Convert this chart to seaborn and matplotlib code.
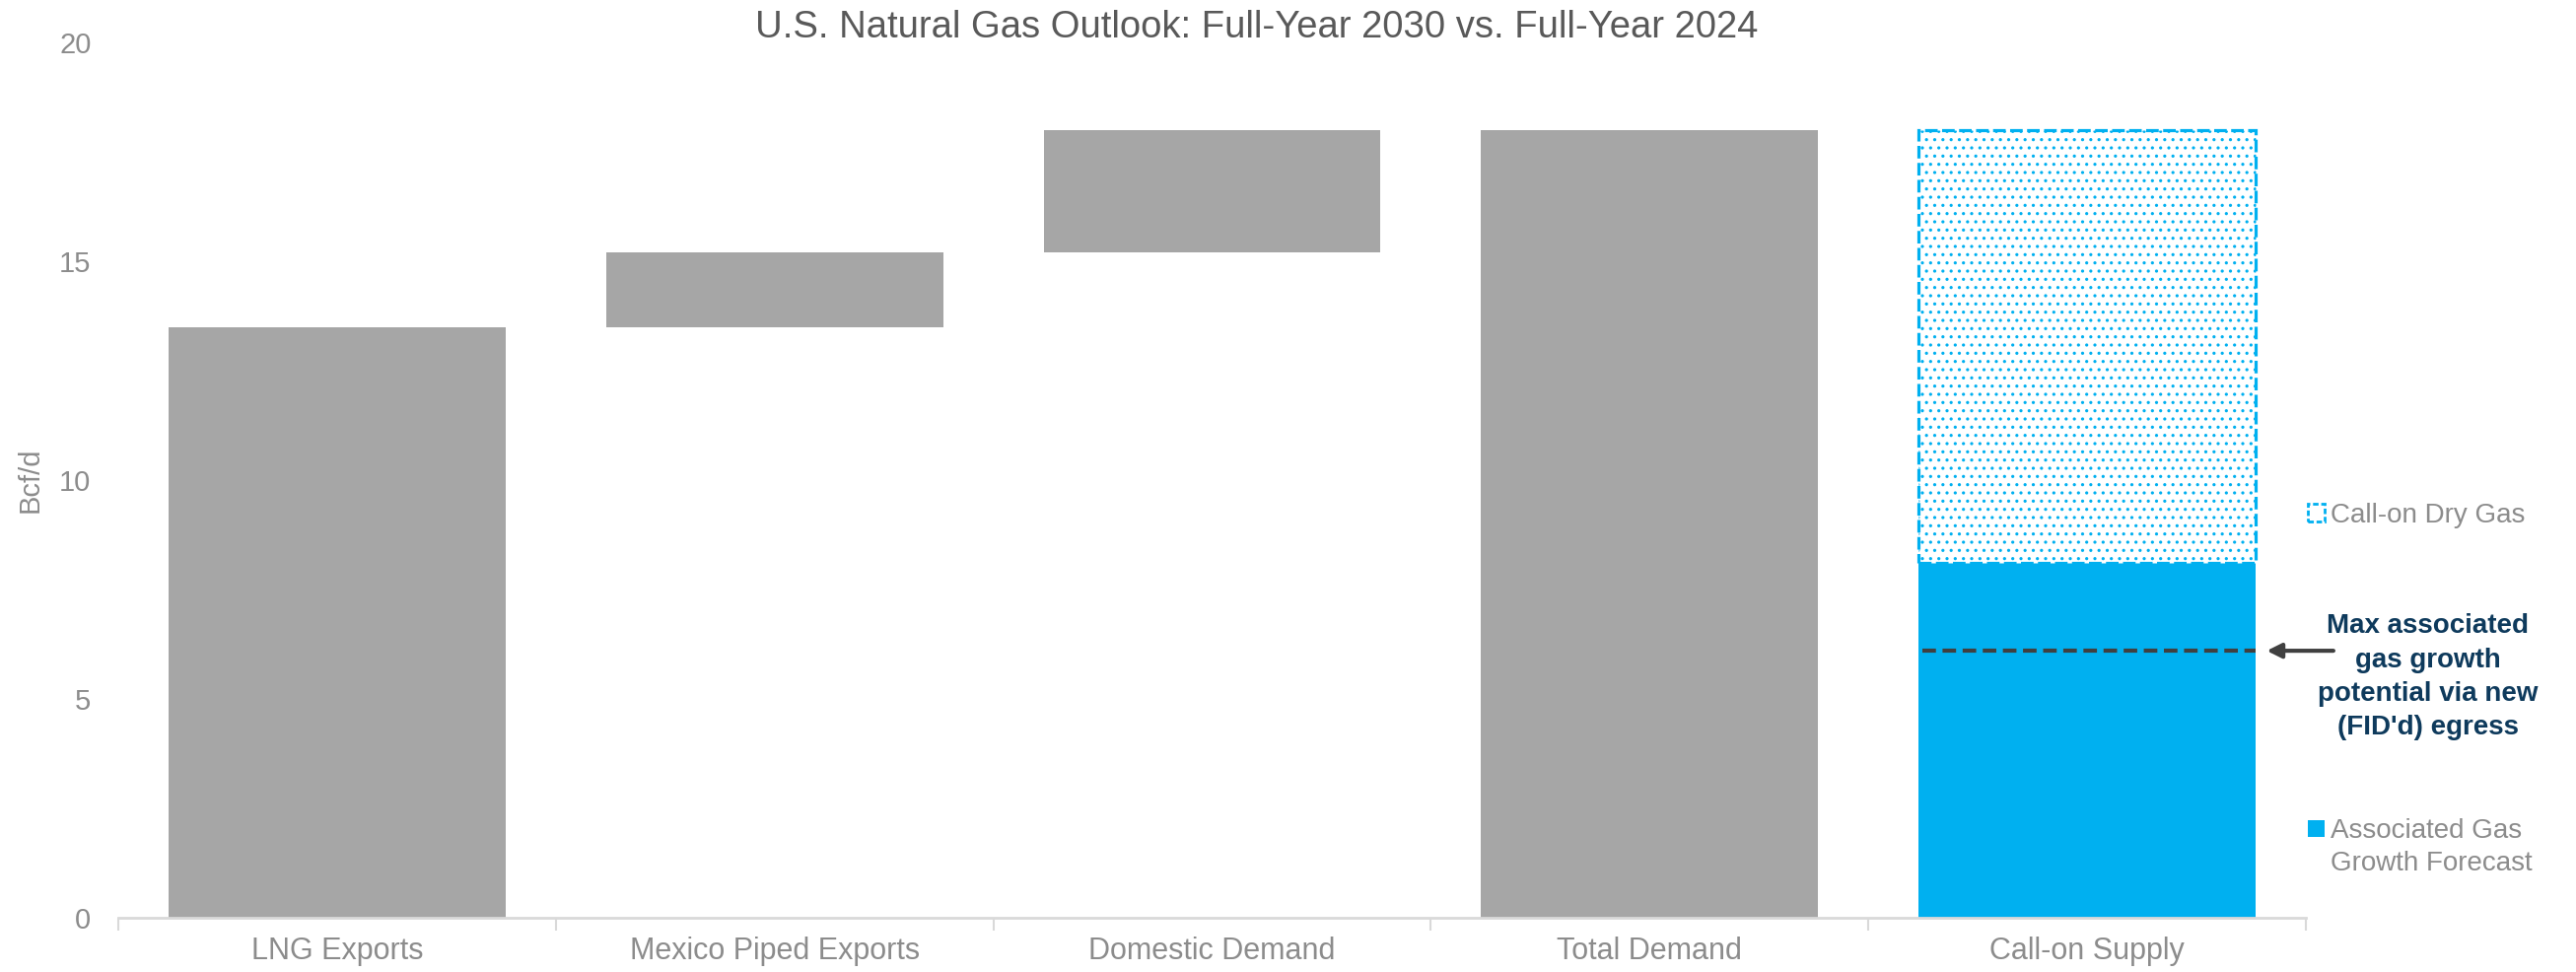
import numpy as np
import pandas as pd
import matplotlib
matplotlib.use("Agg")
import matplotlib.pyplot as plt
import seaborn as sns
from matplotlib.patches import Patch

# dados (Bcf/d)
categories = ["LNG Exports", "Mexico Piped Exports", "Domestic Demand", "Total Demand", "Call-on Supply"]
demand_cats = ["LNG Exports", "Mexico Piped Exports", "Domestic Demand", "Total Demand"]
demand_bottom = [0.0, 13.5, 15.2, 0.0]
demand_height = [13.5, 1.7, 2.8, 18.0]
assoc_growth = [8.1]
dry_gas = [9.9]
max_assoc_line = 6.1
y_ticks = [0, 5, 10, 15, 20]

sns.set_theme(style="white")
narrow = ["Liberation Sans Narrow", "Liberation Sans", "DejaVu Sans"]
wide = ["Liberation Sans", "DejaVu Sans"]
plt.rcParams["font.family"] = narrow
plt.rcParams["hatch.linewidth"] = 1.1

grey = "#a6a6a6"
blue = "#00b0f0"
txt = "#8c8c8c"

fig = plt.figure(figsize=(26.13, 9.86), dpi=100)
ax = fig.add_axes([0.046, 0.056, 0.849, 0.9])

df_dem = pd.DataFrame({"cat": demand_cats, "val": demand_height})
sns.barplot(data=df_dem, x="cat", y="val", order=categories, color=grey,
            saturation=1, errorbar=None, width=0.77, bottom=demand_bottom,
            linewidth=0, ax=ax)

df_assoc = pd.DataFrame({"cat": ["Call-on Supply"], "val": assoc_growth})
sns.barplot(data=df_assoc, x="cat", y="val", order=categories, color=blue,
            saturation=1, errorbar=None, width=0.77, linewidth=0, ax=ax)

df_dry = pd.DataFrame({"cat": ["Call-on Supply"], "val": dry_gas})
sns.barplot(data=df_dry, x="cat", y="val", order=categories, errorbar=None,
            width=0.77, bottom=assoc_growth, facecolor="white", edgecolor=blue,
            linewidth=2.3, linestyle=(0, (4, 1.4)), hatch="..", ax=ax)

# linha tracejada do potencial máximo
xi = categories.index("Call-on Supply")
ax.plot([xi - 0.375, xi + 0.385], [max_assoc_line, max_assoc_line],
        color="#404040", lw=3, dashes=(3.3, 1.6))
ax.annotate("", xy=(xi + 0.405, max_assoc_line), xytext=(xi + 0.57, max_assoc_line),
            arrowprops=dict(arrowstyle="-|>", color="#404040", lw=3, mutation_scale=22),
            annotation_clip=False)
ax.text(xi + 0.78, 5.5, "Max associated\ngas growth\npotential via new\n(FID'd) egress",
        ha="center", va="center", fontsize=20, fontweight="bold", color="#0e3a5c",
        linespacing=1.42, clip_on=False)

ax.set_xlim(-0.5, len(categories) - 0.5)
ax.set_ylim(0, 20)
ax.set_yticks(y_ticks)
ax.set_yticklabels([str(t) for t in y_ticks], fontsize=21, color=txt, family=wide)
ax.set_xticks(range(len(categories)))
ax.set_xticklabels(categories, fontsize=22, color=txt)
ax.set_xticks(np.arange(-0.5, len(categories)), minor=True)
ax.tick_params(axis="x", which="major", length=0, pad=14)
ax.tick_params(axis="x", which="minor", length=9, width=1.5, color="#d9d9d9", bottom=True)
ax.tick_params(axis="y", length=0, pad=20)
ax.set_xlabel("")
ax.set_ylabel("Bcf/d", fontsize=21, color=txt)
ax.yaxis.set_label_coords(-0.034, 0.5)

for s in ["top", "right", "left"]:
    ax.spines[s].set_visible(False)
ax.spines["bottom"].set_color("#d9d9d9")
ax.spines["bottom"].set_linewidth(2)

fig.text(0.488, 0.972, "U.S. Natural Gas Outlook: Full-Year 2030 vs. Full-Year 2024",
         ha="center", va="center", fontsize=27.5, color="#595959")

# legendas
leg1 = ax.legend(handles=[Patch(facecolor="white", edgecolor=blue, linewidth=2, linestyle=(0, (2, 1)))],
                 labels=["Call-on Dry Gas"], loc="center left", bbox_to_anchor=(0.99, 0.46),
                 frameon=False, fontsize=20, labelcolor=txt, handlelength=0.6,
                 handleheight=0.6, handletextpad=0.2)
ax.add_artist(leg1)
ax.legend(handles=[Patch(facecolor=blue, edgecolor="none"), Patch(visible=False)],
          labels=["Associated Gas", "Growth Forecast"], loc="center left",
          bbox_to_anchor=(0.99, 0.08), frameon=False, fontsize=20, labelcolor=txt,
          handlelength=0.6, handleheight=0.6, handletextpad=0.2, labelspacing=0.25)

fig.savefig("out.png", dpi=100)
